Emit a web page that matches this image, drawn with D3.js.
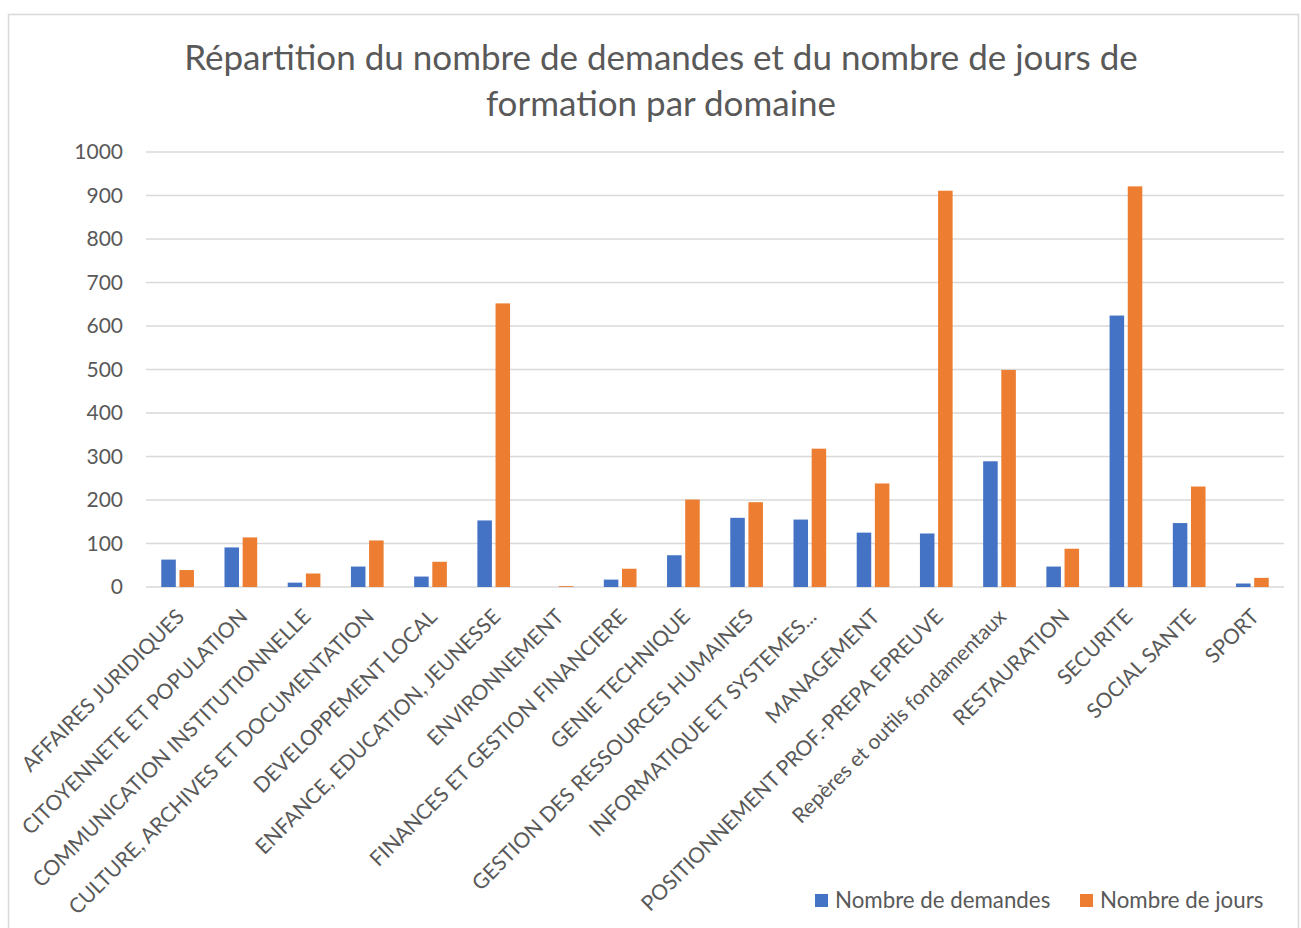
<!DOCTYPE html>
<html>
<head>
<meta charset="utf-8">
<script src="https://cdn.jsdelivr.net/npm/d3@7"></script>
<style>
  html, body { margin: 0; padding: 0; background: #ffffff; }
  svg { display: block; }
  text { font-family: Lato, "Open Sans", "Noto Sans", sans-serif; fill: #595959; }
</style>
</head>
<body>
<script>
const titleLines = ["Répartition du nombre de demandes et du nombre de jours de", "formation par domaine"];
const categories = [
  "AFFAIRES JURIDIQUES",
  "CITOYENNETE ET POPULATION",
  "COMMUNICATION INSTITUTIONNELLE",
  "CULTURE, ARCHIVES ET DOCUMENTATION",
  "DEVELOPPEMENT LOCAL",
  "ENFANCE, EDUCATION, JEUNESSE",
  "ENVIRONNEMENT",
  "FINANCES ET GESTION FINANCIERE",
  "GENIE TECHNIQUE",
  "GESTION DES RESSOURCES HUMAINES",
  "INFORMATIQUE ET SYSTEMES...",
  "MANAGEMENT",
  "POSITIONNEMENT PROF.-PREPA EPREUVE",
  "Repères et outils fondamentaux",
  "RESTAURATION",
  "SECURITE",
  "SOCIAL SANTE",
  "SPORT"
];
const seriesNames = ["Nombre de demandes", "Nombre de jours"];
const demandes = [63, 91, 10, 47, 24, 153, 0, 17, 73, 159, 155, 125, 123, 289, 47, 624, 147, 8];
const jours    = [39, 114, 31, 107, 58, 652, 2, 42, 201, 195, 318, 238, 911, 499, 88, 921, 231, 21];
const yTicks = [0, 100, 200, 300, 400, 500, 600, 700, 800, 900, 1000];
const colors = ["#4472C4", "#ED7D31"];

const W = 1301, H = 928;
const svg = d3.select("body").append("svg").attr("width", W).attr("height", H);

svg.append("rect").attr("x", 0).attr("y", 0).attr("width", W).attr("height", H).attr("fill", "#fff");
// chart border
svg.append("rect").attr("x", 8.5).attr("y", 14.5).attr("width", 1290).attr("height", 930)
  .attr("fill", "none").attr("stroke", "#d9d9d9").attr("stroke-width", 1.5);

// title
svg.append("g").selectAll("text").data(titleLines).join("text")
  .attr("x", 661).attr("y", (d, i) => 70 + i * 46)
  .attr("text-anchor", "middle")
  .style("font-size", "35px")
  .text(d => d);

const x0 = 146, x1 = 1284, yBase = 587, yTop = 152;
const x = d3.scaleBand().domain(categories).range([x0, x1]).paddingInner(0.483).paddingOuter(0.2415);
const xs = d3.scaleBand().domain([0, 1]).range([0, x.bandwidth()]).paddingInner(0.2);
const y = d3.scaleLinear().domain([0, 1000]).range([yBase, yTop]);

// gridlines
svg.append("g").selectAll("line").data(yTicks).join("line")
  .attr("x1", x0).attr("x2", x1)
  .attr("y1", d => y(d)).attr("y2", d => y(d))
  .attr("stroke", "#d9d9d9").attr("stroke-width", 1.5);

// y axis labels
const yAxis = d3.axisLeft(y).tickValues(yTicks).tickFormat(d3.format("d")).tickSize(0).tickPadding(0);
const gy = svg.append("g").attr("transform", `translate(123,0)`).call(yAxis);
gy.select(".domain").remove();
gy.selectAll("text").style("font-size", "21px").attr("fill", "#595959").style("font-family", "Lato, sans-serif");

// bars
const series = [demandes, jours];
series.forEach((vals, si) => {
  svg.append("g").selectAll("rect").data(vals).join("rect")
    .attr("x", (d, i) => x(categories[i]) + xs(si))
    .attr("width", xs.bandwidth())
    .attr("y", d => y(d))
    .attr("height", d => yBase - y(d))
    .attr("fill", colors[si]);
});

// x axis labels
const xAxis = d3.axisBottom(x).tickSize(0).tickPadding(0);
const gx = svg.append("g").attr("transform", `translate(0,${yBase})`).call(xAxis);
gx.select(".domain").remove();
gx.selectAll(".tick text")
  .attr("y", 0).attr("dy", 0)
  .attr("text-anchor", "end")
  .attr("transform", "translate(8,31) rotate(-45)")
  .style("font-size", "21px").attr("fill", "#595959").style("font-family", "Lato, sans-serif");

// legend
const legendItems = [
  { name: seriesNames[0], color: colors[0], sx: 815, tx: 835 },
  { name: seriesNames[1], color: colors[1], sx: 1080, tx: 1100 }
];
const lg = svg.append("g");
legendItems.forEach(it => {
  lg.append("rect").attr("x", it.sx).attr("y", 894).attr("width", 13).attr("height", 13).attr("fill", it.color);
  lg.append("text").attr("x", it.tx).attr("y", 908).style("font-size", "22.3px").text(it.name);
});
</script>
</body>
</html>
